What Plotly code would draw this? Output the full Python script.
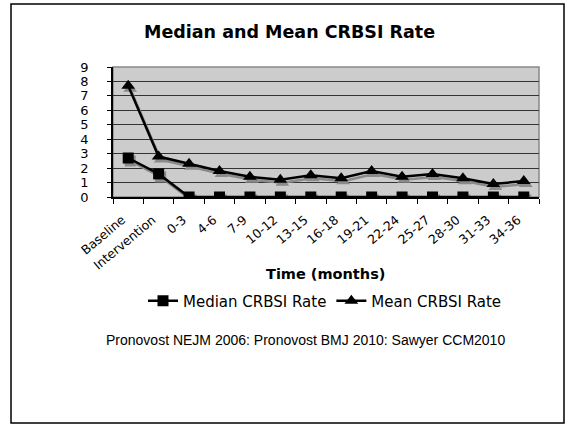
import plotly.graph_objects as go

categories = ["Baseline", "Intervention", "0-3", "4-6", "7-9", "10-12", "13-15",
              "16-18", "19-21", "22-24", "25-27", "28-30", "31-33", "34-36"]
median_rate = [2.7, 1.6, 0, 0, 0, 0, 0, 0, 0, 0, 0, 0, 0, 0]
mean_rate = [7.7, 2.8, 2.3, 1.8, 1.4, 1.2, 1.5, 1.3, 1.8, 1.4, 1.6, 1.3, 0.9, 1.1]
y_ticks = list(range(0, 10))

W, H = 570, 426
L, R, T, B = 113, 539, 67, 197
pw, ph = R - L, B - T

def px(x):
    return (x - L) / pw

def py(y):
    return (B - y) / ph

n = len(categories)
xr = [-0.5, n - 0.5]
yr = [0, 9]
dx = 2 * n / pw      # shadow offset (right)
dy = 3 * 9 / ph      # shadow offset (down)

font_main = "DejaVu Sans, Verdana, sans-serif"

fig = go.Figure()
# shadows on x2/y2
for vals, sym, sz in [(median_rate, "square", 11), (mean_rate, "triangle-up", 12)]:
    fig.add_trace(go.Scatter(x=list(range(n)), y=vals, mode="lines+markers",
                             line=dict(color="#8a8a8a", width=2.5),
                             marker=dict(symbol=sym, size=sz, color="#8a8a8a"),
                             xaxis="x2", yaxis="y2", showlegend=False, hoverinfo="skip"))
# main series on x3/y3
fig.add_trace(go.Scatter(x=list(range(n)), y=median_rate, mode="lines+markers",
                         name="Median CRBSI Rate", xaxis="x3", yaxis="y3",
                         line=dict(color="black", width=2.5),
                         marker=dict(symbol="square", size=11, color="black")))
fig.add_trace(go.Scatter(x=list(range(n)), y=mean_rate, mode="lines+markers",
                         name="Mean CRBSI Rate", xaxis="x3", yaxis="y3",
                         line=dict(color="black", width=2.5),
                         marker=dict(symbol="triangle-up", size=12, color="black")))
# invisible trace to anchor base axes
fig.add_trace(go.Scatter(x=categories, y=[None] * n, mode="markers", showlegend=False,
                         hoverinfo="skip"))

fig.update_layout(
    width=W, height=H,
    margin=dict(l=L, r=W - R, t=T, b=H - B),
    paper_bgcolor="white",
    plot_bgcolor="#cccccc",
    showlegend=True,
    font=dict(family=font_main, size=12, color="black"),
    xaxis=dict(type="category", categoryarray=categories, range=xr, showgrid=False,
               ticks="outside", tickson="boundaries", ticklen=5, tickcolor="black",
               showline=True, linecolor="black", linewidth=1.5,
               tickangle=-40, tickfont=dict(size=12.5, family=font_main),
               ticklabelstandoff=9, ticklabelshift=-6),
    yaxis=dict(range=yr, tickvals=y_ticks, showgrid=True, gridcolor="#333333",
               gridwidth=1, ticks="outside", ticklen=4, tickcolor="black",
               showline=True, linecolor="black", linewidth=1.5, zeroline=False,
               tickfont=dict(size=13, family=font_main), ticklabelstandoff=16),
    xaxis2=dict(range=[xr[0] - dx, xr[1] - dx], overlaying="x", visible=False, anchor="y2"),
    yaxis2=dict(range=[yr[0] + dy, yr[1] + dy], overlaying="y", visible=False, anchor="x2"),
    xaxis3=dict(range=xr, overlaying="x", visible=False, anchor="y3"),
    yaxis3=dict(range=yr, overlaying="y", visible=False, anchor="x3"),
    legend=dict(orientation="h", x=px(325), xanchor="center", y=py(301), yanchor="middle",
                font=dict(size=15, family=font_main), bgcolor="rgba(0,0,0,0)",
                tracegroupgap=0),
    annotations=[
        dict(text="<b>Median and Mean CRBSI Rate</b>", x=px(289), y=py(32),
             xref="paper", yref="paper", showarrow=False, xanchor="center", yanchor="middle",
             font=dict(size=17.5, family=font_main)),
        dict(text="<b>Time (months)</b>", x=px(325), y=py(274),
             xref="paper", yref="paper", showarrow=False, xanchor="center", yanchor="middle",
             font=dict(size=14.5, family=font_main)),
        dict(text="Pronovost NEJM 2006: Pronovost BMJ 2010: Sawyer CCM2010", x=px(305), y=py(340),
             xref="paper", yref="paper", showarrow=False, xanchor="center", yanchor="middle",
             font=dict(size=14, family="Liberation Sans, Arial, sans-serif")),
    ],
    shapes=[
        dict(type="rect", xref="paper", yref="paper", x0=px(11), x1=px(564), y0=py(4), y1=py(423),
             line=dict(color="black", width=1.5), layer="below"),
        dict(type="rect", xref="paper", yref="paper", x0=0, x1=1, y0=0, y1=1,
             line=dict(color="#888888", width=1.5), layer="below"),
    ],
)

fig.write_html("out.html", config={"displayModeBar": False},
               post_script="document.body.style.margin='0';document.body.style.overflow='hidden';")
